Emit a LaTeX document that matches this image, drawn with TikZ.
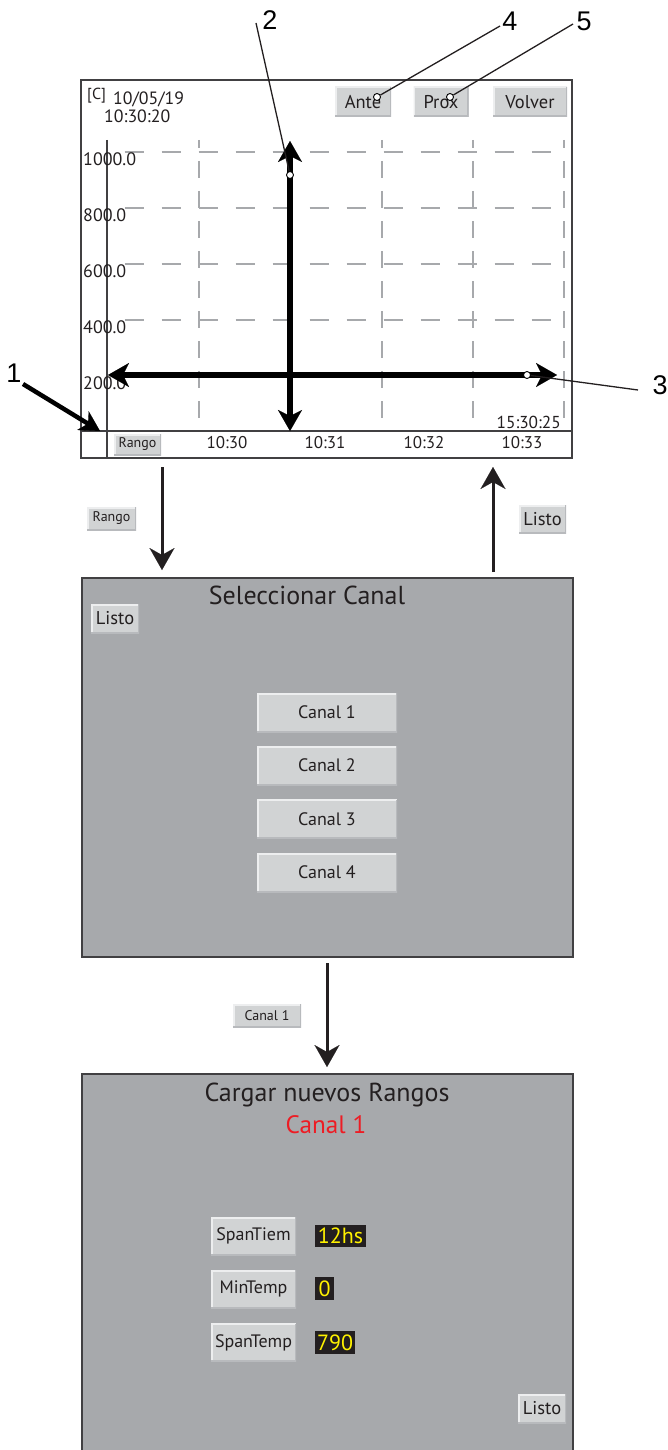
\documentclass[tikz,border=0pt]{standalone}
\usepackage{fontspec}
\setmainfont{PT Sans}
\newfontfamily\numfont{Liberation Sans}
\usetikzlibrary{arrows.meta}
\definecolor{framec}{HTML}{414042}
\definecolor{gridc}{HTML}{A7A9AC}
\definecolor{panelc}{HTML}{A7A9AC}
\definecolor{btngray}{HTML}{D1D3D4}
\definecolor{btnlight}{HTML}{EDEEEF}
\definecolor{btndark}{HTML}{B8BABD}
\definecolor{txtc}{HTML}{231F20}
\definecolor{valbg}{HTML}{231F20}
\definecolor{valtxt}{HTML}{FFF200}
\definecolor{redc}{HTML}{ED1C24}
\begin{document}
\begin{tikzpicture}[x=1pt,y=-1pt,
  fs/.style={font=\fontsize{#1}{#1}\selectfont},
  txt/.style={inner sep=0pt, text=txtc},
  btn/.style n args={2}{minimum width=#1pt, minimum height=#2pt, inner sep=0pt, fill=btngray, text=txtc,
    path picture={
      \draw[btnlight, line width=3pt] (path picture bounding box.south west) -- (path picture bounding box.north west) -- (path picture bounding box.north east);
      \draw[btndark, line width=3pt] (path picture bounding box.north east) -- (path picture bounding box.south east) -- (path picture bounding box.south west);}},
  val/.style n args={2}{minimum width=#1pt, minimum height=#2pt, inner sep=0pt, fill=valbg, text=valtxt, fs=22},
  frame/.style={draw=framec, line width=2.5pt},
  hgrid/.style={draw=gridc, line width=2pt, dash pattern=on 19pt off 18pt, dash phase=19.5pt},
  vgrid/.style={draw=gridc, line width=2pt, dash pattern=on 17pt off 13pt, dash phase=9pt},
  bigarrow/.style={line width=6pt, draw=black, {Stealth[length=21pt,width=24pt,inset=6pt,line width=0.1pt]}-{Stealth[length=21pt,width=24pt,inset=6pt,line width=0.1pt]}},
  flow/.style={line width=3pt, draw=txtc, -{Stealth[length=22pt,width=25pt,inset=7pt,line width=0.1pt]}},
  callout/.style={line width=1.3pt, draw=txtc},
  dot/.style={circle, draw=black, fill=white, line width=0.9pt, inner sep=0pt, minimum size=7pt},
  num/.style={inner sep=0pt, text=black, font=\numfont\fontsize{27}{27}\selectfont}
]
\useasboundingbox (0,0) rectangle (667,1450);

% ---------------- Panel 1 : chart ----------------
\foreach \yy in {152,208,264,320} \draw[hgrid] (107,\yy) -- (562,\yy);
\foreach \xx in {199,382,473,564} \draw[vgrid] (\xx,140) -- (\xx,431);
\draw[frame] (81,80) rectangle (572,458);
\draw[frame] (81,431) -- (572,431);
\draw[frame] (107,140) -- (107,458);

\node[txt, fs=16, anchor=west] (unit) at (87,96) {[C]};
\node[txt, fs=17.8, anchor=west] (date) at (113,99) {10/05/19};
\node[txt, fs=17.8, anchor=west] (time) at (104,116) {10:30:20};

\node[txt, fs=18, anchor=west] (y1000) at (83,159) {1000.0};
\node[txt, fs=18, anchor=west] (y800) at (83,215) {800.0};
\node[txt, fs=18, anchor=west] (y600) at (83,271) {600.0};
\node[txt, fs=18, anchor=west] (y400) at (83,327) {400.0};
\node[txt, fs=18, anchor=west] (y200) at (83,383) {200.0};

\node[btn={56}{30}, fs=18.5] (ante) at (363,102) {Ante};
\node[btn={55}{30}, fs=18.5] (prox) at (441,102) {Prox};
\node[btn={74}{30}, fs=18.5] (volver) at (530,102) {Volver};

\node[btn={47}{21}, fs=14] (rangoA) at (137.5,444.5) {Rango};
\node[txt, fs=17] (t30) at (227,443) {10:30};
\node[txt, fs=17] (t31) at (325,443) {10:31};
\node[txt, fs=17] (t32) at (424,443) {10:32};
\node[txt, fs=17] (t33) at (522,443) {10:33};
\node[txt, fs=17.3, anchor=east] (tnow) at (561,422) {15:30:25};

% cursor arrows
\coordinate (vtop) at (290,141);
\coordinate (vbot) at (290,431);
\coordinate (hl) at (108,375);
\coordinate (hr) at (557,375);
\draw[bigarrow] (vbot) -- (vtop);
\draw[bigarrow] (hl) -- (hr);

% callouts
\node[dot] (c2) at (290,175) {};
\node[dot] (c3) at (527,375) {};
\node[dot] (c4) at (377,97) {};
\node[dot] (c5) at (450,97) {};
\coordinate (e2) at (256,23);
\coordinate (e3) at (638,390);
\coordinate (e4) at (500,26);
\coordinate (e5) at (573,24);
\draw[callout] (c2) -- (e2);
\draw[callout] (c3) -- (e3);
\draw[callout] (c4) -- (e4);
\draw[callout] (c5) -- (e5);
\node[num] (n2) at (270,20) {2};
\node[num] (n3) at (660,385) {3};
\node[num] (n4) at (510,21) {4};
\node[num] (n5) at (584,21) {5};
\node[num] (n1) at (14,373) {1};
\coordinate (a1s) at (23,384);
\coordinate (a1e) at (100,431);
\draw[line width=4.5pt, -{Stealth[length=20pt,width=22pt,inset=6pt,line width=0.1pt]}] (a1s) -- (a1e);

% ---------------- transitions 1 <-> 2 ----------------
\coordinate (f1s) at (162,467);
\coordinate (f1e) at (162,570);
\draw[flow] (f1s) -- (f1e);
\coordinate (f2s) at (493,572);
\coordinate (f2e) at (493,467);
\draw[flow] (f2s) -- (f2e);
\node[btn={49}{23}, fs=14] (rangoB) at (111.5,518.5) {Rango};
\node[btn={47}{28}, fs=18.5] (listoA) at (542.5,519) {Listo};

% ---------------- Panel 2 ----------------
\draw[frame, fill=panelc] (82,578) rectangle (573,957);
\node[txt, fs=26] (sel) at (307,595.5) {Seleccionar Canal};
\node[btn={48}{29}, fs=18.5] (listoB) at (115,618.5) {Listo};
\node[btn={140}{39}, fs=18] (can1) at (327,712.5) {Canal 1};
\node[btn={140}{39}, fs=18] (can2) at (327,765.5) {Canal 2};
\node[btn={140}{39}, fs=18] (can3) at (327,819) {Canal 3};
\node[btn={140}{39}, fs=18] (can4) at (327,872.5) {Canal 4};

% ---------------- transition 2 -> 3 ----------------
\coordinate (f3s) at (327,963);
\coordinate (f3e) at (327,1067);
\draw[flow] (f3s) -- (f3e);
\node[btn={68}{23}, fs=14] (canSmall) at (267,1015.5) {Canal 1};

% ---------------- Panel 3 ----------------
\fill[panelc] (82,1074) rectangle (573,1452);
\draw[frame] (82,1452) -- (82,1074) -- (573,1074) -- (573,1452);
\node[txt, fs=26, anchor=base] (carg) at (327,1101) {Cargar nuevos Rangos};
\node[inner sep=0pt, text=redc, fs=25.2, anchor=base] (canred) at (326,1133) {Canal 1};
\node[btn={85}{38}, fs=18] (spt) at (253.5,1236) {SpanTiem};
\node[btn={85}{38}, fs=18] (mint) at (253.5,1289) {MinTemp};
\node[btn={85}{38}, fs=18] (spT) at (253.5,1342.5) {SpanTemp};
\node[val={51}{22}] (v1) at (340.5,1236) {12hs};
\node[val={19}{23}] (v2) at (324.5,1288.5) {0};
\node[val={40}{23}] (v3) at (335,1342.5) {790};
\node[btn={48}{29}, fs=18.5] (listoC) at (542,1408.5) {Listo};
\end{tikzpicture}
\end{document}
